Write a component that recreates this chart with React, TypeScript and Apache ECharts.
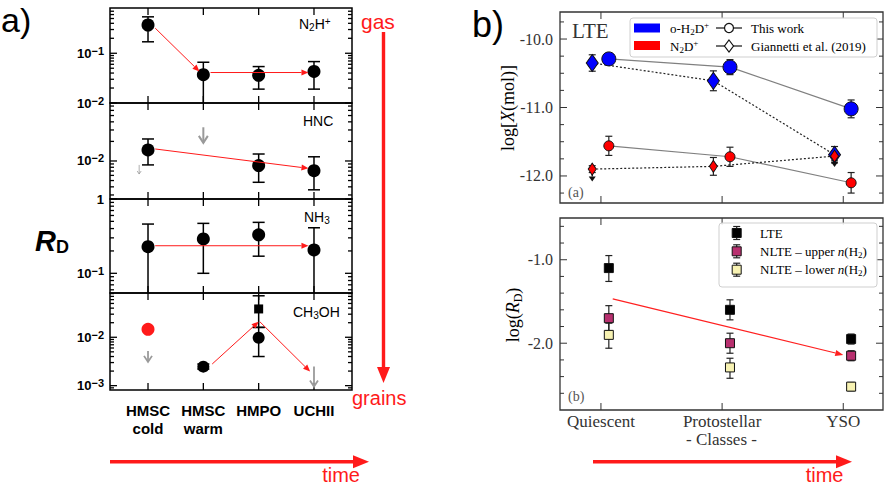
import React, { useEffect, useRef } from "react";
import * as echarts from "echarts";

// ================= Panel a) : R_D versus evolutionary stage =================
const leftCategories = ["HMSC\ncold", "HMSC\nwarm", "HMPO", "UCHII"];

// N2H+
const n2hpStage = [1, 2, 3, 4];
const n2hpValue = [0.37, 0.037, 0.036, 0.043];
const n2hpLow = [0.17, 0.008, 0.019, 0.019];
const n2hpHigh = [0.54, 0.066, 0.054, 0.068];
// HNC
const hncStage = [1, 3, 4];
const hncValue = [0.0148, 0.0085, 0.0071];
const hncLow = [0.0087, 0.0047, 0.0036];
const hncHigh = [0.0218, 0.0128, 0.0116];
// NH3
const nh3Stage = [1, 2, 3, 4];
const nh3Value = [0.228, 0.29, 0.33, 0.206];
const nh3Low = [0.04, 0.1, 0.17, 0.04];
const nh3High = [0.46, 0.47, 0.485, 0.41];
// CH3OH
const ch3ohStage = [2, 3];
const ch3ohValue = [0.00247, 0.0098];
const ch3ohLow = [0.0022, 0.004];
const ch3ohHigh = [0.0028, 0.016];
const ch3ohSquareStage = [3];
const ch3ohSquareValue = [0.0385];
const ch3ohSquareLow = [0.016];
const ch3ohSquareHigh = [0.072];
const ch3ohRedStage = [1];
const ch3ohRedValue = [0.0146];

// upper limits (gray arrows): [stage, from, to]
const hncLimits = [[2, 0.033, 0.019]];
const hncSmallLimits = [[0.84, 0.0087, 0.0063]];
const ch3ohLimits = [
  [1, 0.0052, 0.0031],
  [4, 0.0025, 0.00096],
];
// trend arrows (red): [x1, y1, x2, y2]
const n2hpTrend = [
  [1.13, 0.32, 1.93, 0.043],
  [2.13, 0.041, 3.9, 0.041],
];
const hncTrend = [[1.13, 0.0153, 3.9, 0.0077]];
const nh3Trend = [[1.13, 0.235, 3.9, 0.235]];
const ch3ohTrend = [
  [2.16, 0.0028, 3.0, 0.021],
  [3.02, 0.021, 3.93, 0.00195],
];

// ================= Panel b) =================
const rightCategories = ["Quiescent", "Protostellar", "YSO"];
// (a) log X(mol)
const h2dThis = [-10.29, -10.41, -11.02];
const h2dThisErr = [0.08, 0.11, 0.13];
const h2dGian = [-10.35, -10.61, -11.69];
const h2dGianErr = [0.12, 0.145, 0.12];
const n2dThis = [-11.56, -11.72, -12.1];
const n2dThisErr = [0.14, 0.14, 0.15];
const n2dGian = [-11.9, -11.86, -11.71];
const n2dGianErr = [0.05, 0.13, 0.07];
const n2dGianLimits = [
  [0, -11.93, -12.08],
  [2, -11.74, -11.87],
];
// (b) log R_D
const rdLTE = [-1.1, -1.6, -1.95];
const rdLTELow = [-1.26, -1.72, -2.01];
const rdLTEHigh = [-0.95, -1.48, -1.89];
const rdUpper = [-1.7, -2.0, -2.15];
const rdUpperLow = [-1.85, -2.12, -2.21];
const rdUpperHigh = [-1.55, -1.88, -2.09];
const rdLower = [-1.9, -2.29, -2.52];
const rdLowerLow = [-2.06, -2.42, -2.57];
const rdLowerHigh = [-1.76, -2.18, -2.47];
const rdTrend = [[0.097, -1.468, 2.0, -2.14]];

// ================= styling =================
const SANS = "'Liberation Sans', Arial, Helvetica, sans-serif";
const SERIF = "'Liberation Serif', 'Times New Roman', serif";
const OFF_THIS = 0.065;
const OFF_GIAN = -0.072;
const lg = Math.log10;

const leftRanges: number[][] = [
  [-2, -0.09],
  [-2.585, -1.108],
  [-1.265, 0],
  [-3.09, -1.085],
];
const leftMajors: number[][] = [[-2, -1], [-2], [-1, 0], [-3, -2]];
const leftGridBox = [
  { top: 8, height: 95 },
  { top: 103, height: 96 },
  { top: 199, height: 94 },
  { top: 293, height: 97 },
];
const LX = [0.313, 4.687];
const RX = [-0.338, 2.328];

function logMinors(lo: number, hi: number): number[] {
  const out: number[] = [];
  for (let d = Math.floor(lo); d <= Math.ceil(hi); d++) {
    for (let k = 2; k <= 9; k++) {
      const v = d + Math.log10(k);
      if (v > lo + 0.01 && v < hi - 0.01) out.push(v);
    }
  }
  return out;
}
function linMinors(lo: number, hi: number, step: number): number[] {
  const out: number[] = [];
  const n0 = Math.ceil(lo / step - 1e-6);
  const n1 = Math.floor(hi / step + 1e-6);
  for (let n = n0; n <= n1; n++) {
    const v = n * step;
    if (Math.abs(v - Math.round(v)) > 1e-6 && v > lo + 0.01 && v < hi - 0.01) out.push(v);
  }
  return out;
}

const makeTickRender = (color: string, lw: number) => (params: any, api: any) => {
  const cs = params.coordSys;
  const kind = api.value(2);
  const len = api.value(3);
  const st = { stroke: color, lineWidth: lw };
  if (kind === 1) {
    const px = api.coord([api.value(0), api.value(1)])[0];
    return {
      type: "group",
      children: [
        { type: "line", shape: { x1: px, y1: cs.y, x2: px, y2: cs.y + len }, style: st },
        { type: "line", shape: { x1: px, y1: cs.y + cs.height - len, x2: px, y2: cs.y + cs.height }, style: st },
      ],
    };
  }
  const py = api.coord([api.value(0), api.value(1)])[1];
  return {
    type: "group",
    children: [
      { type: "line", shape: { x1: cs.x, y1: py, x2: cs.x + len, y2: py }, style: st },
      { type: "line", shape: { x1: cs.x + cs.width - len, y1: py, x2: cs.x + cs.width, y2: py }, style: st },
    ],
  };
};

const makeErrRender = (half: number, color: string, lw: number) => (params: any, api: any) => {
  const cs = params.coordSys;
  const x = api.value(0);
  const pTop = api.coord([x, api.value(2)]);
  const pBot = api.coord([x, api.value(1)]);
  const y0 = cs.y;
  const y1 = cs.y + cs.height;
  const top = Math.max(pTop[1], y0);
  const bot = Math.min(pBot[1], y1);
  const st = { stroke: color, lineWidth: lw };
  const ch: any[] = [{ type: "line", shape: { x1: pTop[0], y1: top, x2: pTop[0], y2: bot }, style: st }];
  if (pTop[1] >= y0)
    ch.push({ type: "line", shape: { x1: pTop[0] - half, y1: pTop[1], x2: pTop[0] + half, y2: pTop[1] }, style: st });
  if (pBot[1] <= y1)
    ch.push({ type: "line", shape: { x1: pBot[0] - half, y1: pBot[1], x2: pBot[0] + half, y2: pBot[1] }, style: st });
  return { type: "group", children: ch };
};

const makeArrowRender =
  (color: string, lw: number, headLen: number, headHalf: number, filled: boolean) => (params: any, api: any) => {
    const p1 = api.coord([api.value(0), api.value(1)]);
    const p2 = api.coord([api.value(2), api.value(3)]);
    const dx = p2[0] - p1[0];
    const dy = p2[1] - p1[1];
    const L = Math.hypot(dx, dy) || 1;
    const ux = dx / L;
    const uy = dy / L;
    const nx = -uy;
    const ny = ux;
    const bx = p2[0] - ux * headLen;
    const by = p2[1] - uy * headLen;
    const a = [bx + nx * headHalf, by + ny * headHalf];
    const b = [bx - nx * headHalf, by - ny * headHalf];
    const ch: any[] = [
      {
        type: "line",
        shape: { x1: p1[0], y1: p1[1], x2: filled ? bx : p2[0], y2: filled ? by : p2[1] },
        style: { stroke: color, lineWidth: lw },
      },
    ];
    if (filled) ch.push({ type: "polygon", shape: { points: [a, p2, b] }, style: { fill: color } });
    else ch.push({ type: "polyline", shape: { points: [a, p2, b] }, style: { stroke: color, lineWidth: lw, fill: "none" } });
    return { type: "group", children: ch };
  };

function buildOption(): any {
  const grid: any[] = [];
  const xAxis: any[] = [];
  const yAxis: any[] = [];
  const series: any[] = [];

  const hiddenAxis = { axisLine: { show: false }, axisTick: { show: false }, splitLine: { show: false } };

  // ---------- left panels ----------
  leftGridBox.forEach((g, i) => {
    grid.push({
      left: 110,
      width: 242,
      top: g.top,
      height: g.height,
      show: true,
      borderColor: "#000",
      borderWidth: 1.5,
      backgroundColor: "transparent",
    });
    xAxis.push({
      type: "value",
      gridIndex: i,
      min: LX[0],
      max: LX[1],
      ...hiddenAxis,
      axisLabel:
        i === 3
          ? {
              show: true,
              customValues: [1, 2, 3, 4],
              formatter: (v: number) => leftCategories[Math.round(v) - 1] || "",
              fontFamily: SANS,
              fontWeight: "bold",
              fontSize: 15,
              lineHeight: 18,
              color: "#000",
              margin: 11,
            }
          : { show: false },
    });
    yAxis.push({
      type: "value",
      gridIndex: i,
      min: leftRanges[i][0],
      max: leftRanges[i][1],
      ...hiddenAxis,
      axisLabel: {
        show: true,
        customValues: leftMajors[i],
        margin: 6,
        formatter: (v: number) => (Math.abs(v) < 1e-9 ? "{b|1}" : `{b|10}{s|−${Math.round(-v)}}`),
        rich: {
          b: { fontFamily: SANS, fontWeight: "bold", fontSize: 13, color: "#000", lineHeight: 16 },
          s: { fontFamily: SANS, fontWeight: "bold", fontSize: 11, color: "#000", lineHeight: 10, verticalAlign: "top" },
        },
      },
    });
    const ticks: number[][] = [];
    [1, 2, 3, 4].forEach((v) => ticks.push([v, leftRanges[i][0], 1, 7]));
    leftMajors[i].forEach((v) => ticks.push([LX[0], v, 0, 7]));
    logMinors(leftRanges[i][0], leftRanges[i][1]).forEach((v) => ticks.push([LX[0], v, 0, 4]));
    series.push({
      type: "custom",
      xAxisIndex: i,
      yAxisIndex: i,
      renderItem: makeTickRender("#000", 1.3),
      data: ticks,
      encode: { x: 0, y: 1 },
      silent: true,
      z: 1,
    });
  });

  const leftErr = (gi: number, xs: number[], lo: number[], hi: number[]) => ({
    type: "custom",
    xAxisIndex: gi,
    yAxisIndex: gi,
    renderItem: makeErrRender(6, "#000", 1.5),
    data: xs.map((x, k) => [x, lg(lo[k]), lg(hi[k])]),
    encode: { x: 0, y: [1, 2] },
    silent: true,
    z: 2,
  });
  const leftPts = (gi: number, xs: number[], vs: number[], symbol: string, size: number, color: string) => ({
    type: "scatter",
    xAxisIndex: gi,
    yAxisIndex: gi,
    symbol,
    symbolSize: size,
    itemStyle: { color, opacity: 1 },
    data: xs.map((x, k) => [x, lg(vs[k])]),
    silent: true,
    z: 4,
  });
  const leftArrows = (gi: number, rows: number[][], color: string, lw: number, hl: number, hh: number, filled: boolean) => ({
    type: "custom",
    xAxisIndex: gi,
    yAxisIndex: gi,
    renderItem: makeArrowRender(color, lw, hl, hh, filled),
    data: rows.map((r) => [r[0], lg(r[1]), r[2], lg(r[3])]),
    encode: { x: [0, 2], y: [1, 3] },
    silent: true,
    z: 5,
  });
  const limitRows = (rows: number[][]) => rows.map((r) => [r[0], r[1], r[0], r[2]]);

  // N2H+
  series.push(leftErr(0, n2hpStage, n2hpLow, n2hpHigh));
  series.push(leftPts(0, n2hpStage, n2hpValue, "circle", 13, "#000"));
  series.push(leftArrows(0, n2hpTrend, "#ff1a1a", 1, 7, 3, true));
  // HNC
  series.push(leftErr(1, hncStage, hncLow, hncHigh));
  series.push(leftPts(1, hncStage, hncValue, "circle", 13, "#000"));
  series.push(leftArrows(1, hncTrend, "#ff1a1a", 1, 7, 3, true));
  series.push(leftArrows(1, limitRows(hncLimits), "#9a9a9a", 2, 7, 4.5, false));
  series.push(leftArrows(1, limitRows(hncSmallLimits), "#9a9a9a", 0.8, 3, 2, false));
  // NH3
  series.push(leftErr(2, nh3Stage, nh3Low, nh3High));
  series.push(leftPts(2, nh3Stage, nh3Value, "circle", 13, "#000"));
  series.push(leftArrows(2, nh3Trend, "#ff1a1a", 1, 7, 3, true));
  // CH3OH
  series.push(leftErr(3, ch3ohStage, ch3ohLow, ch3ohHigh));
  series.push(leftErr(3, ch3ohSquareStage, ch3ohSquareLow, ch3ohSquareHigh));
  series.push(leftPts(3, ch3ohStage, ch3ohValue, "circle", 12, "#000"));
  series.push(leftPts(3, ch3ohSquareStage, ch3ohSquareValue, "rect", 9, "#000"));
  series.push(leftPts(3, ch3ohRedStage, ch3ohRedValue, "circle", 13, "#ff1a1a"));
  series.push(leftArrows(3, ch3ohTrend, "#ff1a1a", 1, 7, 3, true));
  series.push(leftArrows(3, limitRows(ch3ohLimits), "#9a9a9a", 1.8, 6, 4, false));

  // ---------- right panels ----------
  const rightRanges = [
    [-12.395, -9.605],
    [-2.8, -0.5],
  ];
  const rightMajors = [
    [-12, -11, -10],
    [-2, -1],
  ];
  const rightMinors = [linMinors(-12.395, -9.605, 0.25), linMinors(-2.8, -0.5, 0.2)];
  const rightBox = [
    { top: 12, height: 191 },
    { top: 218, height: 192 },
  ];
  rightBox.forEach((g, j) => {
    const gi = 4 + j;
    grid.push({
      left: 560,
      width: 323,
      top: g.top,
      height: g.height,
      show: true,
      borderColor: "#333",
      borderWidth: 1.3,
      backgroundColor: "transparent",
    });
    xAxis.push({
      type: "value",
      gridIndex: gi,
      min: RX[0],
      max: RX[1],
      ...hiddenAxis,
      name: j === 1 ? "- Classes -" : "",
      nameLocation: "middle",
      nameGap: 21,
      nameTextStyle: { fontFamily: SERIF, fontSize: 17, color: "#333" },
      axisLabel:
        j === 1
          ? {
              show: true,
              customValues: [0, 1, 2],
              formatter: (v: number) => rightCategories[Math.round(v)] || "",
              fontFamily: SERIF,
              fontSize: 17,
              color: "#333",
              margin: 3,
            }
          : { show: false },
    });
    yAxis.push({
      type: "value",
      gridIndex: gi,
      min: rightRanges[j][0],
      max: rightRanges[j][1],
      ...hiddenAxis,
      axisLabel: {
        show: true,
        customValues: rightMajors[j],
        formatter: (v: number) => v.toFixed(1),
        fontFamily: SERIF,
        fontSize: 16,
        color: "#333",
        margin: 7,
      },
    });
    const ticks: number[][] = [];
    [0, 1, 2].forEach((v) => ticks.push([v, rightRanges[j][0], 1, 7]));
    rightMajors[j].forEach((v) => ticks.push([RX[0], v, 0, 7]));
    rightMinors[j].forEach((v) => ticks.push([RX[0], v, 0, 4]));
    series.push({
      type: "custom",
      xAxisIndex: gi,
      yAxisIndex: gi,
      renderItem: makeTickRender("#333", 1),
      data: ticks,
      encode: { x: 0, y: 1 },
      silent: true,
      z: 1,
    });
  });

  const rErr = (gi: number, off: number, vals: number[], lo: number[], hi: number[]) => ({
    type: "custom",
    xAxisIndex: gi,
    yAxisIndex: gi,
    renderItem: makeErrRender(3.5, "#222", 1.2),
    data: vals.map((_, k) => [k + off, lo[k], hi[k]]),
    encode: { x: 0, y: [1, 2] },
    silent: true,
    z: 2,
  });
  const symErr = (vals: number[], err: number[]) => ({
    lo: vals.map((v, k) => v - err[k]),
    hi: vals.map((v, k) => v + err[k]),
  });
  const rLine = (vals: number[], off: number, symbol: string, size: any, fill: string, dotted: boolean) => ({
    type: "line",
    xAxisIndex: 4,
    yAxisIndex: 4,
    data: vals.map((v, k) => [k + off, v]),
    symbol,
    symbolSize: size,
    showAllSymbol: true,
    itemStyle: { color: fill, borderColor: "#111", borderWidth: 1 },
    lineStyle: dotted ? { color: "#222", width: 1.2, type: [2, 2] } : { color: "#808080", width: 1.1 },
    silent: true,
    z: 4,
  });

  const e1 = symErr(h2dThis, h2dThisErr);
  const e2 = symErr(h2dGian, h2dGianErr);
  const e3 = symErr(n2dThis, n2dThisErr);
  const e4 = symErr(n2dGian, n2dGianErr);
  series.push(rErr(4, OFF_THIS, h2dThis, e1.lo, e1.hi));
  series.push(rErr(4, OFF_GIAN, h2dGian, e2.lo, e2.hi));
  series.push(rErr(4, OFF_THIS, n2dThis, e3.lo, e3.hi));
  series.push(rErr(4, OFF_GIAN, n2dGian, e4.lo, e4.hi));
  series.push({
    type: "custom",
    xAxisIndex: 4,
    yAxisIndex: 4,
    renderItem: makeArrowRender("#111", 1.3, 5, 3.5, true),
    data: n2dGianLimits.map((r) => [r[0] + OFF_GIAN, r[1], r[0] + OFF_GIAN, r[2]]),
    encode: { x: [0, 2], y: [1, 3] },
    silent: true,
    z: 3,
  });
  series.push(rLine(h2dThis, OFF_THIS, "circle", 14, "#0000ff", false));
  series.push(rLine(n2dThis, OFF_THIS, "circle", 10, "#ff0000", false));
  series.push(rLine(h2dGian, OFF_GIAN, "diamond", [12, 17], "#0000ff", true));
  series.push(rLine(n2dGian, OFF_GIAN, "diamond", [8, 12], "#ff0000", true));

  // bottom (R_D)
  const sq = (vals: number[], color: string) => ({
    type: "scatter",
    xAxisIndex: 5,
    yAxisIndex: 5,
    symbol: "rect",
    symbolSize: 9,
    itemStyle: { color, borderColor: "#111", borderWidth: 1, opacity: 1 },
    data: vals.map((v, k) => [k + OFF_THIS, v]),
    silent: true,
    z: 4,
  });
  series.push(rErr(5, OFF_THIS, rdLTE, rdLTELow, rdLTEHigh));
  series.push(rErr(5, OFF_THIS, rdUpper, rdUpperLow, rdUpperHigh));
  series.push(rErr(5, OFF_THIS, rdLower, rdLowerLow, rdLowerHigh));
  series.push(sq(rdLTE, "#000000"));
  series.push(sq(rdUpper, "#b8306f"));
  series.push(sq(rdLower, "#f7f2b2"));
  series.push({
    type: "custom",
    xAxisIndex: 5,
    yAxisIndex: 5,
    renderItem: makeArrowRender("#ff2020", 1.2, 8, 3.2, true),
    data: rdTrend,
    encode: { x: [0, 2], y: [1, 3] },
    silent: true,
    z: 5,
  });

  // ---------- graphic annotations ----------
  const red = "#ff1a1a";
  const subRich = {
    n: { fontFamily: SANS, fontSize: 14, color: "#111", lineHeight: 16 },
    sub: { fontFamily: SANS, fontSize: 10, color: "#111", lineHeight: 9, verticalAlign: "bottom" },
    sup: { fontFamily: SANS, fontSize: 10, color: "#111", lineHeight: 9, verticalAlign: "top" },
  };
  const serifRich = (size: number) => ({
    n: { fontFamily: SERIF, fontSize: size, color: "#333", lineHeight: size + 3 },
    i: { fontFamily: SERIF, fontSize: size, fontStyle: "italic", color: "#333", lineHeight: size + 3 },
    sub: { fontFamily: SERIF, fontSize: Math.round(size * 0.68), color: "#333", lineHeight: Math.round(size * 0.6), verticalAlign: "bottom" },
    sup: { fontFamily: SERIF, fontSize: Math.round(size * 0.68), color: "#333", lineHeight: Math.round(size * 0.6), verticalAlign: "top" },
  });
  const txt = (x: number, y: number, text: string, style: any, extra: any = {}) => ({
    type: "text",
    x,
    y,
    silent: true,
    z: 100,
    ...extra,
    style: { text, verticalAlign: "middle", align: "left", ...style },
  });
  const LZ = 110;
  const legendMarker = (cx: number, cy: number, color: string): any[] => [
    { type: "line", silent: true, z: LZ, shape: { x1: cx, y1: cy - 6.5, x2: cx, y2: cy + 6.5 }, style: { stroke: "#222", lineWidth: 1.2 } },
    { type: "line", silent: true, z: LZ, shape: { x1: cx - 3.5, y1: cy - 6.5, x2: cx + 3.5, y2: cy - 6.5 }, style: { stroke: "#222", lineWidth: 1.2 } },
    { type: "line", silent: true, z: LZ, shape: { x1: cx - 3.5, y1: cy + 6.5, x2: cx + 3.5, y2: cy + 6.5 }, style: { stroke: "#222", lineWidth: 1.2 } },
    {
      type: "rect",
      silent: true,
      z: LZ + 1,
      shape: { x: cx - 4.5, y: cy - 4.5, width: 9, height: 9 },
      style: { fill: color, stroke: "#111", lineWidth: 1 },
    },
  ];

  const graphic: any[] = [
    txt(1, 20, "a)", { fontFamily: SANS, fontSize: 34, fill: "#000" }),
    txt(472, 24, "b)", { fontFamily: SANS, fontSize: 36, fill: "#000" }),
    txt(35, 241, "{r|R}{d|D}", {
      rich: {
        r: { fontFamily: SANS, fontSize: 29, fontWeight: "bold", fontStyle: "italic", fill: "#000", lineHeight: 30 },
        d: { fontFamily: SANS, fontSize: 18, fontWeight: "bold", fill: "#000", lineHeight: 18, verticalAlign: "bottom" },
      },
    }),
    // panel titles
    txt(299, 24, "{n|N}{sub|2}{n|H}{sup|+}", { rich: subRich }),
    txt(303, 121, "{n|HNC}", { rich: subRich }),
    txt(304, 217, "{n|NH}{sub|3}", { rich: subRich }),
    txt(293, 312, "{n|CH}{sub|3}{n|OH}", { rich: subRich }),
    // gas -> grains arrow
    txt(361, 21, "gas", { fontFamily: SANS, fontSize: 21, fill: red }),
    { type: "line", silent: true, shape: { x1: 383.5, y1: 32, x2: 383.5, y2: 370 }, style: { stroke: red, lineWidth: 3.4 } },
    { type: "polygon", silent: true, shape: { points: [[377, 367], [390, 367], [383.5, 383]] }, style: { fill: red } },
    txt(352, 398, "grains", { fontFamily: SANS, fontSize: 20, fill: red }),
    // time arrows
    { type: "line", silent: true, shape: { x1: 110, y1: 461.7, x2: 355, y2: 461.7 }, style: { stroke: red, lineWidth: 3.4 } },
    { type: "polygon", silent: true, shape: { points: [[353, 455.2], [353, 468.2], [369, 461.7]] }, style: { fill: red } },
    txt(360, 474.5, "time", { fontFamily: SANS, fontSize: 20, fill: red, align: "right" }),
    { type: "line", silent: true, shape: { x1: 593, y1: 461.7, x2: 838, y2: 461.7 }, style: { stroke: red, lineWidth: 3.4 } },
    { type: "polygon", silent: true, shape: { points: [[836, 455.2], [836, 468.2], [852, 461.7]] }, style: { fill: red } },
    txt(843.5, 474.5, "time", { fontFamily: SANS, fontSize: 20, fill: red, align: "right" }),
    // right panel texts
    txt(572, 31, "LTE", { fontFamily: SERIF, fontSize: 21, fill: "#333" }),
    txt(568, 192, "(a)", { fontFamily: SERIF, fontSize: 14, fill: "#555" }),
    txt(568, 396, "(b)", { fontFamily: SERIF, fontSize: 14, fill: "#555" }),
    txt(508, 108, "{n|log[}{i|X}{n|(mol)]}", { rich: serifRich(18), align: "center" }, { rotation: Math.PI / 2 }),
    txt(513, 315, "{n|log(}{i|R}{sub|D}{n|)}", { rich: serifRich(18), align: "center" }, { rotation: Math.PI / 2 }),
    // top legend
    {
      type: "rect",
      silent: true,
      z: 99,
      shape: { x: 630, y: 18, width: 247, height: 39, r: 3 },
      style: { fill: "rgba(255,255,255,0.9)", stroke: "#cfcfcf", lineWidth: 1 },
    },
    { type: "rect", silent: true, z: LZ, shape: { x: 634, y: 23.5, width: 26, height: 9 }, style: { fill: "#0000ff" } },
    { type: "rect", silent: true, z: LZ, shape: { x: 634, y: 41, width: 26, height: 9 }, style: { fill: "#ff0000" } },
    txt(670, 28, "{n|o-H}{sub|2}{n|D}{sup|+}", { rich: serifRich(13) }),
    txt(670, 46, "{n|N}{sub|2}{n|D}{sup|+}", { rich: serifRich(13) }),
    { type: "line", silent: true, z: LZ, shape: { x1: 716, y1: 28, x2: 742, y2: 28 }, style: { stroke: "#111", lineWidth: 1.2 } },
    { type: "circle", silent: true, z: LZ + 1, shape: { cx: 729, cy: 28, r: 4.5 }, style: { fill: "#fff", stroke: "#111", lineWidth: 1.2 } },
    { type: "line", silent: true, z: LZ, shape: { x1: 716, y1: 46, x2: 742, y2: 46 }, style: { stroke: "#111", lineWidth: 1.2 } },
    {
      type: "polygon",
      silent: true,
      z: LZ + 1,
      shape: { points: [[729, 40], [733.5, 46], [729, 52], [724.5, 46]] },
      style: { fill: "#fff", stroke: "#111", lineWidth: 1.2 },
    },
    txt(751, 28, "{n|This work}", { rich: serifRich(13) }),
    txt(751, 46, "{n|Giannetti et al. (2019)}", { rich: serifRich(13) }),
    // bottom legend
    {
      type: "rect",
      silent: true,
      z: 99,
      shape: { x: 719, y: 223, width: 158, height: 64, r: 3 },
      style: { fill: "rgba(255,255,255,0.9)", stroke: "#cfcfcf", lineWidth: 1 },
    },
    ...legendMarker(736.7, 233, "#000000"),
    ...legendMarker(736.7, 251.3, "#b8306f"),
    ...legendMarker(736.7, 269.7, "#f7f2b2"),
    txt(760, 233, "{n|LTE}", { rich: serifRich(13) }),
    txt(760, 251.3, "{n|NLTE – upper }{i|n}{n|(H}{sub|2}{n|)}", { rich: serifRich(13) }),
    txt(760, 269.7, "{n|NLTE – lower }{i|n}{n|(H}{sub|2}{n|)}", { rich: serifRich(13) }),
  ];

  return {
    animation: false,
    backgroundColor: "#ffffff",
    grid,
    xAxis,
    yAxis,
    series,
    graphic,
  };
}

export default function App() {
  const ref = useRef<HTMLDivElement>(null);
  useEffect(() => {
    document.body.style.margin = "0";
    if (!ref.current) return;
    const chart = echarts.init(ref.current, undefined, { renderer: "svg" });
    chart.setOption(buildOption());
    return () => chart.dispose();
  }, []);
  return <div ref={ref} style={{ width: 886, height: 485 }} />;
}
